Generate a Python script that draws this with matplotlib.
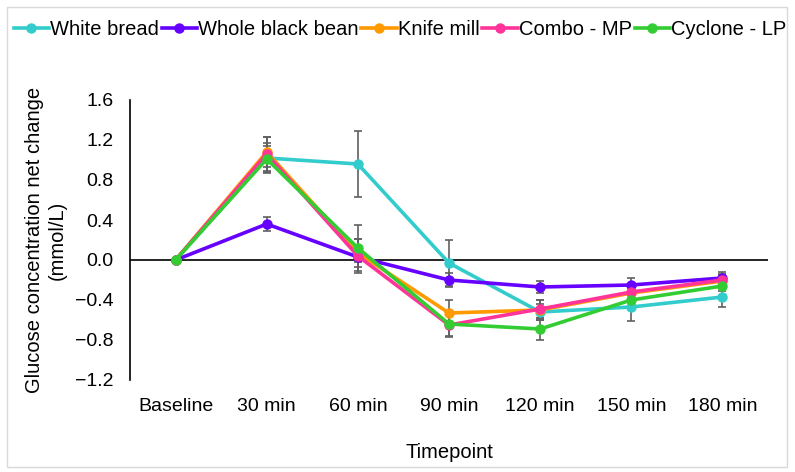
import numpy as np
import matplotlib.pyplot as plt
from matplotlib.patches import Rectangle

plt.rcParams['font.family'] = ['Liberation Sans', 'DejaVu Sans']

timepoints = ['Baseline', '30 min', '60 min', '90 min', '120 min', '150 min', '180 min']
series_names = ['White bread', 'Whole black bean', 'Knife mill', 'Combo - MP', 'Cyclone - LP']
colors = ['#33CCCC', '#6600FF', '#FF9900', '#FF3399', '#33CC33']

white_bread = [0.0, 1.02, 0.96, -0.03, -0.52, -0.47, -0.37]
black_bean = [0.0, 0.36, 0.03, -0.20, -0.27, -0.25, -0.18]
knife_mill = [0.0, 1.08, 0.07, -0.53, -0.50, -0.33, -0.21]
combo_mp = [0.0, 1.06, 0.04, -0.65, -0.49, -0.32, -0.20]
cyclone_lp = [0.0, 1.01, 0.12, -0.64, -0.69, -0.40, -0.26]

white_bread_err = [0.0, 0.15, 0.33, 0.23, 0.08, 0.14, 0.10]
black_bean_err = [0.0, 0.07, 0.05, 0.07, 0.06, 0.07, 0.06]
knife_mill_err = [0.0, 0.15, 0.14, 0.13, 0.10, 0.06, 0.06]
combo_mp_err = [0.0, 0.17, 0.17, 0.12, 0.09, 0.06, 0.06]
cyclone_lp_err = [0.0, 0.13, 0.23, 0.12, 0.11, 0.06, 0.05]

values = [white_bread, black_bean, knife_mill, combo_mp, cyclone_lp]
errors = [white_bread_err, black_bean_err, knife_mill_err, combo_mp_err, cyclone_lp_err]

fig = plt.figure(figsize=(7.95, 4.72), dpi=100)
ax = fig.add_axes([130 / 795, 92 / 472, 638 / 795, 280 / 472])

x = np.arange(len(timepoints))
for name, vals, errs, col in zip(series_names, values, errors, colors):
    ax.errorbar(x, vals, yerr=errs, fmt='none', ecolor='#606060',
                elinewidth=1.2, capsize=3, capthick=1.2, zorder=2)
for name, vals, col in zip(series_names, values, colors):
    ax.plot(x, vals, '-o', color=col, lw=2.6, ms=6.5, label=name, zorder=3)

ax.set_xlim(-0.5, len(timepoints) - 0.5)
ax.set_ylim(-1.2, 1.6)
ax.set_yticks(np.arange(-1.2, 1.61, 0.4))
ax.set_yticklabels([f'{v:.1f}'.replace('-', '\u2212') for v in np.arange(-1.2, 1.61, 0.4)])
ax.set_xticks(x)
ax.set_xticklabels(timepoints)
ax.tick_params(axis='both', length=0, labelsize=14)
ax.tick_params(axis='x', pad=13)
ax.tick_params(axis='y', pad=12)
ax.axhline(0, color='black', lw=1.2, zorder=1)

for s in ['top', 'right', 'bottom']:
    ax.spines[s].set_visible(False)
ax.spines['left'].set_color('black')
ax.spines['left'].set_linewidth(1.2)

ax.set_ylabel('Glucose concentration net change\n(mmol/L)', fontsize=14.5, labelpad=6)
ax.set_xlabel('Timepoint', fontsize=14.5, labelpad=20)

fig.legend(loc='upper center', bbox_to_anchor=(0.503, 0.987), ncol=5, frameon=False,
           fontsize=14.5, handlelength=1.75, handletextpad=0.05, columnspacing=0.15,
           borderaxespad=0.3)

fig.patches.append(Rectangle((7 / 795, 5 / 472), 780 / 795, 460 / 472,
                             transform=fig.transFigure, fill=False,
                             edgecolor='#D9D9D9', lw=1))

fig.savefig('out.png', dpi=100)
